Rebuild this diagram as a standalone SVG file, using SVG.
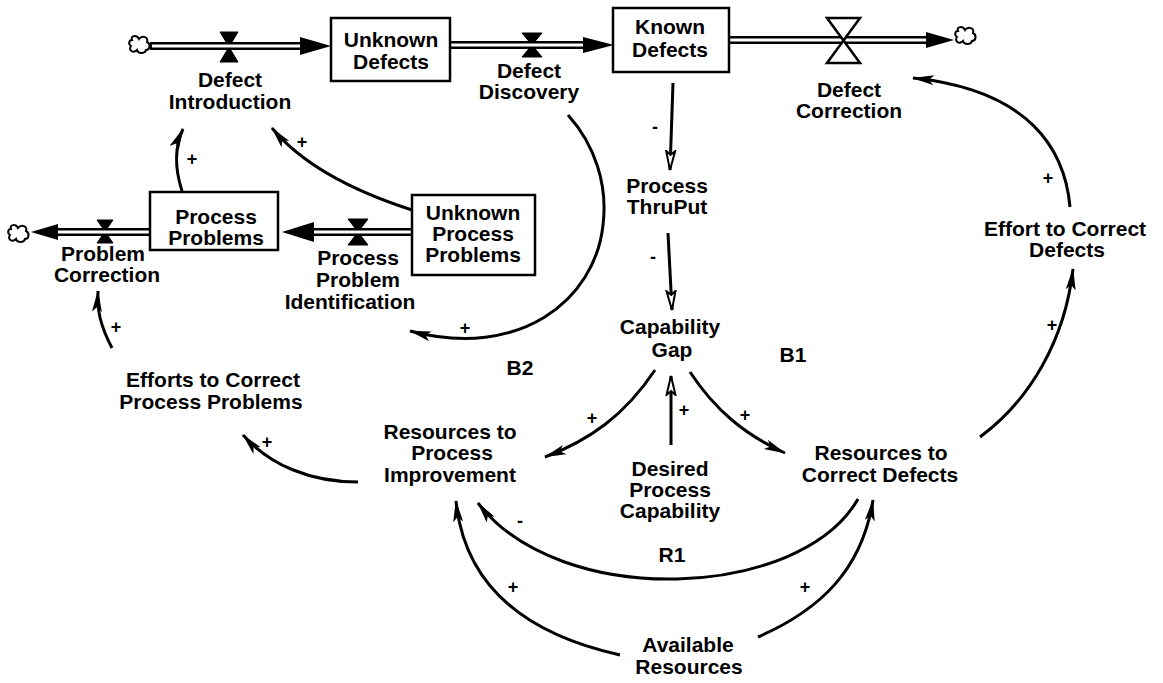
<svg xmlns="http://www.w3.org/2000/svg" width="1163" height="683" viewBox="0 0 1163 683">
  <style>
    .t { font-family: "Liberation Sans", Arial, sans-serif; font-weight: bold; font-size: 21px; text-anchor: middle; fill: #000; }
    .sg { font-family: "Liberation Sans", Arial, sans-serif; font-weight: bold; font-size: 18px; text-anchor: middle; fill: #000; }
    .box { fill: #fff; stroke: #000; stroke-width: 2.5; }
    .pipe-out { fill: none; stroke: #000; stroke-width: 8; }
    .pipe-in { fill: none; stroke: #fff; stroke-width: 3; }
    .link { fill: none; stroke: #000; stroke-width: 3; }
    .cloud { fill: #fff; stroke: #000; stroke-width: 2; }
    .valve { fill: #000; stroke: #000; stroke-width: 1; }
    .valve-open { fill: #fff; stroke: #000; stroke-width: 2.5; }
  </style>
  <defs>
    <marker id="arr" markerUnits="userSpaceOnUse" markerWidth="24" markerHeight="12" refX="21" refY="5" orient="auto">
      <path d="M0,0 L22,5 L0,10 L5,5 Z" fill="#000"/>
    </marker>
    <marker id="arrOpen" markerUnits="userSpaceOnUse" markerWidth="24" markerHeight="14" refX="20" refY="6" orient="auto">
      <path d="M1,1.5 L20,6 L1,10.5 L5,6 Z" fill="#fff" stroke="#000" stroke-width="2"/>
    </marker>
    <path id="cloudShape" d="M-8,-5 C-10,-10 -3,-10 -1,-6 C2,-10 9,-8 7,-3 C11,-1 10,5 6,5 C5,9 -2,9 -3,5 C-7,9 -12,5 -9,1 C-12,-1 -11,-5 -8,-5 Z"/>
  </defs>

  <!-- material flows (pipes, valves, clouds) -->
  <g id="flows">
    <!-- defect introduction pipe -->
    <path class="pipe-out" d="M150,46 L305,46"/>
    <path class="valve" d="M220,32 L238,32 L220,62 L238,62 Z"/>
    <path class="pipe-in" d="M152,46 L303,46"/>
    <path d="M300,37 L331,46 L300,55 Z" fill="#000"/>
    <use href="#cloudShape" class="cloud" transform="translate(140,45)"/>

    <!-- defect discovery pipe -->
    <path class="pipe-out" d="M450,45 L588,45"/>
    <path class="valve" d="M522,33 L542,33 L522,57 L542,57 Z"/>
    <path class="pipe-in" d="M450,45 L586,45"/>
    <path d="M583,37 L614,45 L583,53 Z" fill="#000"/>

    <!-- defect correction pipe -->
    <path class="pipe-out" d="M729,40 L932,40"/>
    <path class="pipe-in" d="M729,40 L930,40"/>
    <path class="valve-open" d="M827,18 L860,18 L827,63 L860,63 Z"/>
    <path d="M926,32 L954,40 L926,48 Z" fill="#000"/>
    <use href="#cloudShape" class="cloud" transform="translate(966,36)"/>

    <!-- process problem identification pipe -->
    <path class="pipe-out" d="M412,232 L308,232"/>
    <path class="valve" d="M348,219 L368,219 L348,245 L368,245 Z"/>
    <path class="pipe-in" d="M412,232 L310,232"/>
    <path d="M314,222 L282,232 L314,242 Z" fill="#000"/>

    <!-- problem correction pipe -->
    <path class="pipe-out" d="M150,232 L52,232"/>
    <path class="valve" d="M97,220 L113,220 L97,243 L113,243 Z"/>
    <path class="pipe-in" d="M150,232 L54,232"/>
    <path d="M58,224 L31,232 L58,240 Z" fill="#000"/>
    <use href="#cloudShape" class="cloud" transform="translate(19,234)"/>
  </g>

  <!-- causal links -->
  <g id="connectors">
    <path class="link" marker-end="url(#arr)" d="M182,191 C174,166 175,146 183,129"/>
    <path class="link" marker-end="url(#arr)" d="M412,210 C350,190 300,162 272,128"/>
    <path class="link" marker-end="url(#arr)" d="M568,115 C595,145 608,185 603,225 C595,300 520,360 410,331"/>
    <path class="link" marker-end="url(#arrOpen)" d="M673,83 L670,170"/>
    <path class="link" marker-end="url(#arrOpen)" d="M668,233 L672,310"/>
    <path class="link" marker-end="url(#arr)" d="M655,370 C625,415 590,440 545,457"/>
    <path class="link" marker-end="url(#arr)" d="M690,372 C715,410 745,435 785,453"/>
    <path class="link" marker-end="url(#arrOpen)" d="M671,445 L671,376"/>
    <path class="link" marker-end="url(#arr)" d="M1070,207 C1065,150 1030,90 913,78"/>
    <path class="link" marker-end="url(#arr)" d="M980,437 C1030,400 1065,340 1073,269"/>
    <path class="link" marker-end="url(#arr)" d="M358,482 C310,482 270,465 243,435"/>
    <path class="link" marker-end="url(#arr)" d="M112,348 C100,325 97,310 98,291"/>
    <path class="link" marker-end="url(#arr)" d="M620,655 C530,635 465,590 456,501"/>
    <path class="link" marker-end="url(#arr)" d="M758,637 C820,610 862,570 873,500"/>
    <path class="link" marker-end="url(#arr)" d="M858,499 C800,600 560,610 478,503"/>

    <!-- polarity signs -->
    <text class="sg" x="192" y="165">+</text>
    <text class="sg" x="302" y="148">+</text>
    <text class="sg" x="465" y="334">+</text>
    <text class="sg" x="655" y="133">-</text>
    <text class="sg" x="653" y="263">-</text>
    <text class="sg" x="592" y="424">+</text>
    <text class="sg" x="745" y="421">+</text>
    <text class="sg" x="684" y="416">+</text>
    <text class="sg" x="1048" y="184">+</text>
    <text class="sg" x="1052" y="331">+</text>
    <text class="sg" x="267" y="448">+</text>
    <text class="sg" x="116" y="333">+</text>
    <text class="sg" x="513" y="593">+</text>
    <text class="sg" x="805" y="593">+</text>
    <text class="sg" x="520" y="527">-</text>
  </g>

  <!-- stocks -->
  <g id="unknown-defects">
    <rect class="box" x="331" y="18" width="119" height="63"/>
    <text class="t" x="391" y="47">Unknown</text>
    <text class="t" x="391" y="69">Defects</text>
  </g>
  <g id="known-defects">
    <rect class="box" x="613" y="8" width="116" height="64"/>
    <text class="t" x="670" y="34">Known</text>
    <text class="t" x="670" y="57">Defects</text>
  </g>
  <g id="process-problems">
    <rect class="box" x="150" y="192" width="128" height="58"/>
    <text class="t" x="216" y="224">Process</text>
    <text class="t" x="216" y="245">Problems</text>
  </g>
  <g id="unknown-process-problems">
    <rect class="box" x="412" y="195" width="123" height="80"/>
    <text class="t" x="473" y="220">Unknown</text>
    <text class="t" x="473" y="241">Process</text>
    <text class="t" x="473" y="262">Problems</text>
  </g>

  <!-- rates and auxiliaries -->
  <g id="defect-introduction">
    <text class="t" x="230" y="87">Defect</text>
    <text class="t" x="230" y="109">Introduction</text>
  </g>
  <g id="defect-discovery">
    <text class="t" x="529" y="78">Defect</text>
    <text class="t" x="529" y="99">Discovery</text>
  </g>
  <g id="defect-correction">
    <text class="t" x="849" y="97">Defect</text>
    <text class="t" x="849" y="118">Correction</text>
  </g>
  <g id="problem-correction">
    <text class="t" x="103" y="261">Problem</text>
    <text class="t" x="107" y="282">Correction</text>
  </g>
  <g id="process-problem-identification">
    <text class="t" x="358" y="265">Process</text>
    <text class="t" x="358" y="287">Problem</text>
    <text class="t" x="350" y="309">Identification</text>
  </g>
  <g id="process-thruput">
    <text class="t" x="667" y="193">Process</text>
    <text class="t" x="667" y="214">ThruPut</text>
  </g>
  <g id="capability-gap">
    <text class="t" x="670" y="334">Capability</text>
    <text class="t" x="672" y="357">Gap</text>
  </g>
  <g id="effort-to-correct-defects">
    <text class="t" x="1065" y="236">Effort to Correct</text>
    <text class="t" x="1067" y="257">Defects</text>
  </g>
  <g id="efforts-to-correct-process-problems">
    <text class="t" x="213" y="387">Efforts to Correct</text>
    <text class="t" x="211" y="409">Process Problems</text>
  </g>
  <g id="resources-to-process-improvement">
    <text class="t" x="450" y="439">Resources to</text>
    <text class="t" x="452" y="460">Process</text>
    <text class="t" x="450" y="482">Improvement</text>
  </g>
  <g id="desired-process-capability">
    <text class="t" x="670" y="476">Desired</text>
    <text class="t" x="670" y="497">Process</text>
    <text class="t" x="670" y="518">Capability</text>
  </g>
  <g id="resources-to-correct-defects">
    <text class="t" x="881" y="460">Resources to</text>
    <text class="t" x="880" y="482">Correct Defects</text>
  </g>
  <g id="available-resources">
    <text class="t" x="688" y="652">Available</text>
    <text class="t" x="689" y="674">Resources</text>
  </g>

  <!-- loop labels -->
  <g id="loop-labels">
    <text class="t" x="520" y="375">B2</text>
    <text class="t" x="793" y="362">B1</text>
    <text class="t" x="672" y="562">R1</text>
  </g>
</svg>
